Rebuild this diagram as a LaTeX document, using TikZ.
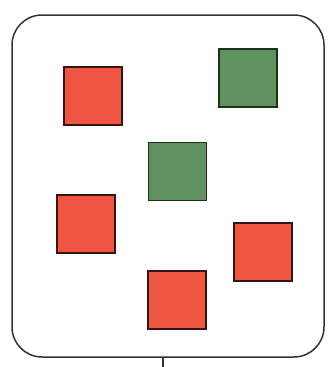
\documentclass[tikz,border=0pt]{standalone}
\definecolor{sqred}{RGB}{238,86,66}
\definecolor{sqredb}{RGB}{55,22,18}
\definecolor{sqgreen}{RGB}{96,146,96}
\definecolor{sqgreenb}{RGB}{28,48,28}
\begin{document}
\begin{tikzpicture}[x=1pt,y=-1pt,
  redsq/.style={draw=sqredb, line width=1.8pt, fill=sqred, minimum size=58pt, inner sep=0pt},
  greensq/.style={draw=sqgreenb, line width=1.8pt, fill=sqgreen, minimum size=58pt, inner sep=0pt},
  frame/.style={draw=black!80, line width=1.5pt, rounded corners=30pt}]
\useasboundingbox (0,0) rectangle (329,367);
\fill[white] (0,0) rectangle (329,367);
\draw[frame] (12,15) rectangle (324,357);
\node[redsq] (r1) at (93,96) {};
\node[greensq] (g1) at (248,78) {};
\node[greensq] (g2) at (177.5,171.5) {};
\node[redsq] (r2) at (86,224) {};
\node[redsq] (r3) at (263,252) {};
\node[redsq] (r4) at (177,300) {};
\coordinate (t1) at (163,357);
\coordinate (t2) at (163,367);
\draw[black!80, line width=1.2pt] (t1) -- (t2);
\end{tikzpicture}
\end{document}
